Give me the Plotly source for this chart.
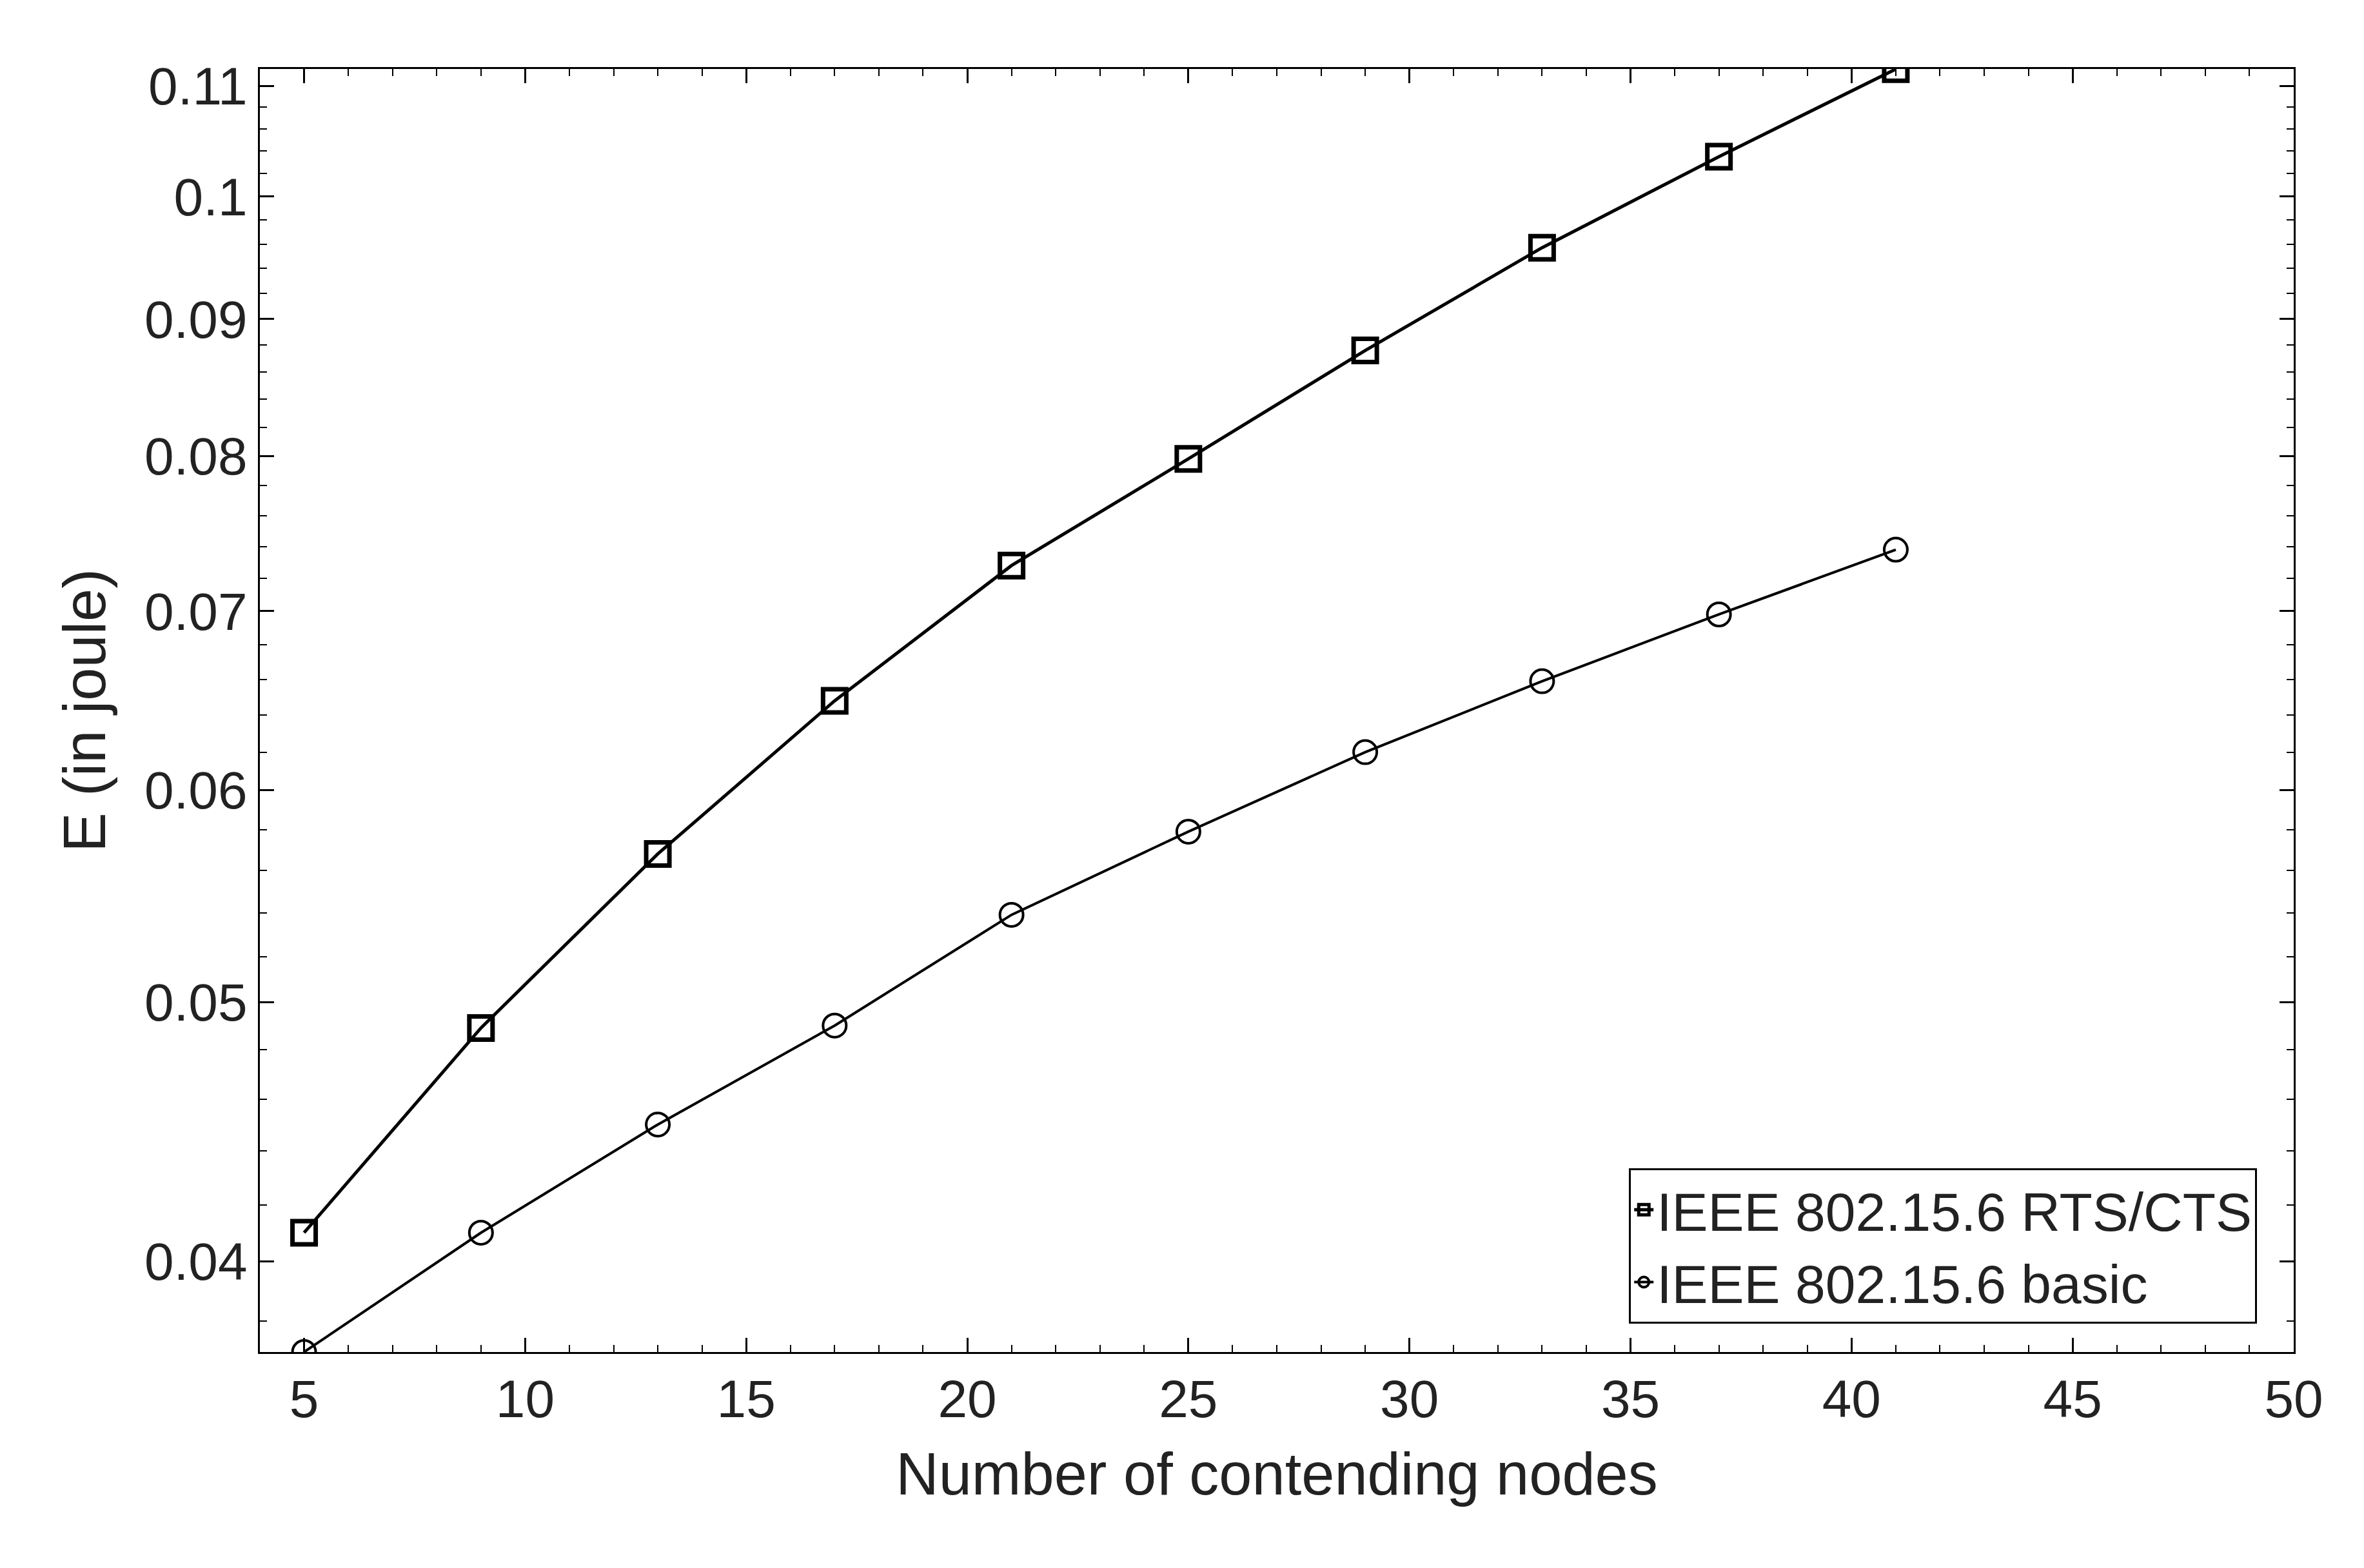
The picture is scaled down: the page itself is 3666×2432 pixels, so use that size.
import plotly.graph_objects as go

nodes = [5, 9, 13, 17, 21, 25, 29, 33, 37, 41]
rts_cts = [0.0410, 0.0489, 0.0568, 0.0648, 0.0728, 0.0798, 0.0876, 0.0957, 0.1035, 0.1116]
basic = [0.0370, 0.0410, 0.0450, 0.0490, 0.0539, 0.0579, 0.0620, 0.0659, 0.0698, 0.0738]
ytick_vals = [0.04, 0.05, 0.06, 0.07, 0.08, 0.09, 0.1, 0.11]
ytick_text = ["0.04", "0.05", "0.06", "0.07", "0.08", "0.09", "0.1", "0.11"]
yminor = [0.038 + 0.002 * i for i in range(38)]

fig = go.Figure()
fig.add_trace(go.Scatter(x=nodes, y=rts_cts, mode="lines+markers", name="IEEE 802.15.6 RTS/CTS",
                         line=dict(color="black", width=5),
                         marker=dict(symbol="square-open", size=36, color="black", line=dict(width=7))))
fig.add_trace(go.Scatter(x=nodes, y=basic, mode="lines+markers", name="IEEE 802.15.6 basic",
                         line=dict(color="black", width=4),
                         marker=dict(symbol="circle-open", size=36, color="black", line=dict(width=4))))

ax = dict(showline=True, linecolor="black", linewidth=3, mirror="ticks", ticks="inside",
          ticklen=22, tickwidth=3, tickcolor="black", showgrid=False, zeroline=False,
          tickfont=dict(family="Arial, Liberation Sans", size=82, color="#222"))
fig.update_xaxes(**ax, range=[4, 50], tickvals=[5, 10, 15, 20, 25, 30, 35, 40, 45, 50],
                 minor=dict(ticks="inside", dtick=1, ticklen=11, tickwidth=2, tickcolor="black"),
                 title=dict(text="Number of contending nodes", standoff=40,
                            font=dict(family="Arial, Liberation Sans", size=92, color="#222")))
fig.update_yaxes(**ax, type="log", range=[-1.4318, -0.9523], tickvals=ytick_vals, ticktext=ytick_text,
                 minor=dict(ticks="inside", tickvals=yminor, ticklen=11, tickwidth=2, tickcolor="black"),
                 title=dict(text="E (in joule)", standoff=30,
                            font=dict(family="Arial, Liberation Sans", size=92, color="#222")))
fig.update_layout(width=3666, height=2432, plot_bgcolor="white", paper_bgcolor="white",
                  margin=dict(l=395, r=117, t=99, b=343),
                  legend=dict(x=0.982, y=0.022, xanchor="right", yanchor="bottom",
                              bordercolor="black", borderwidth=3, bgcolor="white",
                              font=dict(family="Arial, Liberation Sans", size=84, color="#222")))
fig.write_html("out.html")
